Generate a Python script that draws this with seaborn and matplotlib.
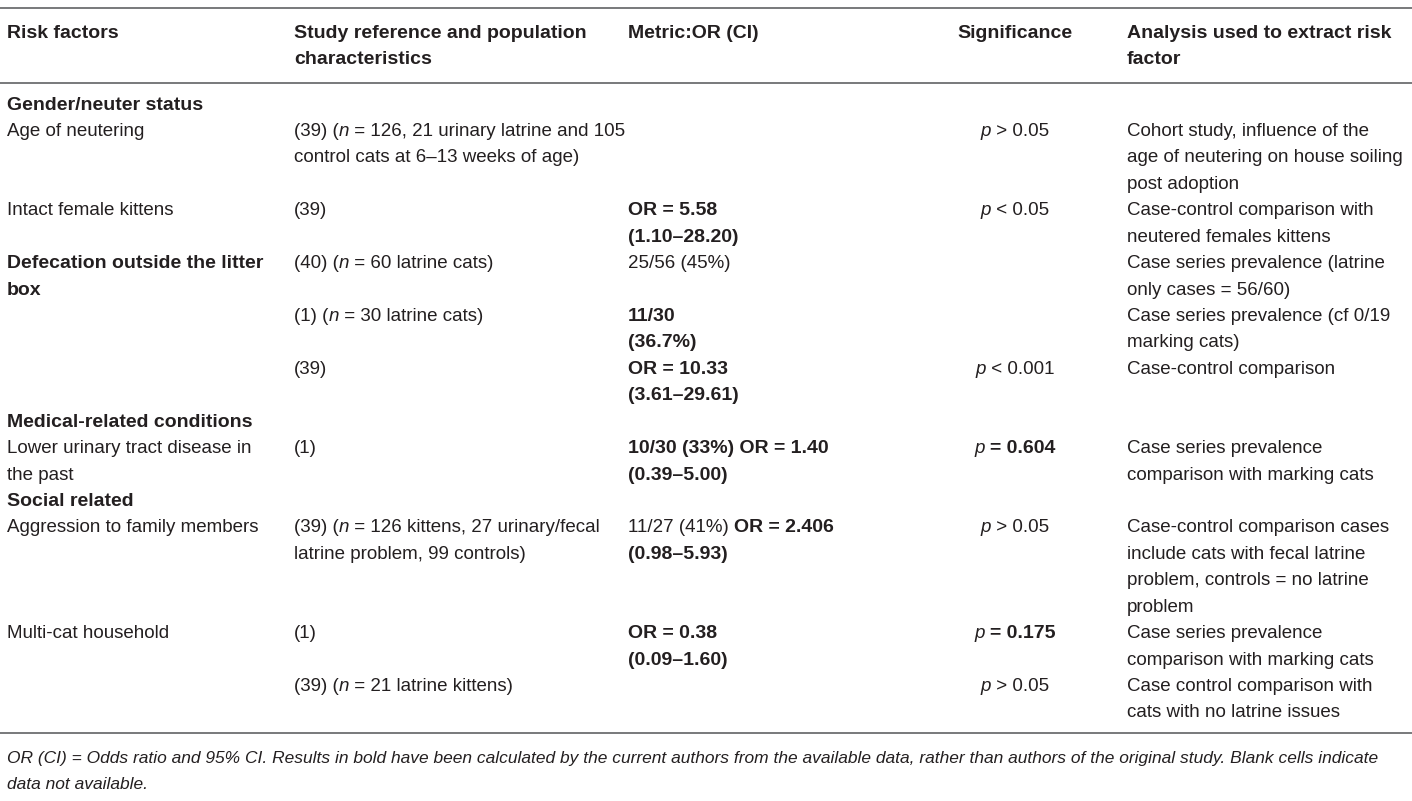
import re
import matplotlib
matplotlib.use("Agg")
import matplotlib.pyplot as plt
import seaborn as sns

# ---------------- data ----------------
header = [
    "**Risk factors**",
    "**Study reference and population**\n**characteristics**",
    "**Metric:OR (CI)**",
    "**Significance**",
    "**Analysis used to extract risk**\n**factor**",
]

sections = {0: "**Gender/neuter status**", 6: "**Medical-related conditions**", 8: "**Social related**"}

risk_factors = [
    "", "Age of neutering", "Intact female kittens",
    "**Defecation outside the litter**\n**box**", "", "",
    "", "Lower urinary tract disease in\nthe past",
    "", "Aggression to family members", "Multi-cat household", "",
]
study_refs = [
    "", "(39) (_n_ = 126, 21 urinary latrine and 105\ncontrol cats at 6–13 weeks of age)", "(39)",
    "(40) (_n_ = 60 latrine cats)", "(1) (_n_ = 30 latrine cats)", "(39)",
    "", "(1)",
    "", "(39) (_n_ = 126 kittens, 27 urinary/fecal\nlatrine problem, 99 controls)", "(1)",
    "(39) (_n_ = 21 latrine kittens)",
]
metrics = [
    "", "", "**OR = 5.58**\n**(1.10–28.20)**",
    "25/56 (45%)", "**11/30**\n**(36.7%)**", "**OR = 10.33**\n**(3.61–29.61)**",
    "", "**10/30 (33%) OR = 1.40**\n**(0.39–5.00)**",
    "", "11/27 (41%) **OR = 2.406**\n**(0.98–5.93)**", "**OR = 0.38**\n**(0.09–1.60)**", "",
]
significance = [
    "", "_p_ > 0.05", "_p_ < 0.05",
    "", "", "_p_ < 0.001",
    "", "_p_ **= 0.604**",
    "", "_p_ > 0.05", "_p_ **= 0.175**", "_p_ > 0.05",
]
analysis = [
    "", "Cohort study, influence of the\nage of neutering on house soiling\npost adoption",
    "Case-control comparison with\nneutered females kittens",
    "Case series prevalence (latrine\nonly cases = 56/60)",
    "Case series prevalence (cf 0/19\nmarking cats)",
    "Case-control comparison",
    "", "Case series prevalence\ncomparison with marking cats",
    "", "Case-control comparison cases\ninclude cats with fecal latrine\nproblem, controls = no latrine\nproblem",
    "Case series prevalence\ncomparison with marking cats",
    "Case control comparison with\ncats with no latrine issues",
]
footnote = ("_OR (CI) = Odds ratio and 95% CI. Results in bold have been calculated by the current authors "
            "from the available data, rather than authors of the original study. Blank cells indicate_\n"
            "_data not available._")

# ---------------- layout ----------------
sns.set_theme(style="white")
plt.rcParams["font.family"] = ["Liberation Sans", "DejaVu Sans"]

W, H = 1412, 801
fig = plt.figure(figsize=(W / 100, H / 100), dpi=100)
ax = fig.add_axes([0, 0, 1, 1])
ax.set_xlim(0, W)
ax.set_ylim(H, 0)
ax.axis("off")
renderer = fig.canvas.get_renderer()

FS = 13.5
FS_BOLD = 14.0
COLOR = "#231f20"
LINE_H = 26.43
col_x = [7, 294, 628, 1015, 1127]
col_align = ["left", "left", "left", "center", "left"]


def parse(line):
    runs = []
    for tok in re.split(r"(\*\*.*?\*\*|_.*?_)", line):
        if not tok:
            continue
        if tok.startswith("**"):
            runs.append((tok[2:-2], "bold", "normal"))
        elif tok.startswith("_") and tok.endswith("_") and len(tok) > 1:
            runs.append((tok[1:-1], "normal", "italic"))
        else:
            runs.append((tok, "normal", "normal"))
    return runs


def run_width(s, weight, style, fs):
    t = ax.text(0, 0, "|" + s + "|", fontsize=fs, fontweight=weight, fontstyle=style)
    w1 = t.get_window_extent(renderer).width
    t.set_text("||")
    w0 = t.get_window_extent(renderer).width
    t.remove()
    return w1 - w0


def draw_line(line, x, y, align="left", fs=None, color=COLOR):
    runs = parse(line)
    sizes = [fs if fs is not None else (FS_BOLD if w == "bold" else FS) for _, w, _ in runs]
    widths = [run_width(s, w, st, f) for (s, w, st), f in zip(runs, sizes)]
    if align == "center":
        x = x - sum(widths) / 2
    for (s, w, st), f, wd in zip(runs, sizes, widths):
        ax.text(x, y, s, fontsize=f, fontweight=w, fontstyle=st, color=color,
                ha="left", va="center_baseline")
        x += wd


def draw_cell(text, col, line_idx, y0):
    if not text:
        return 0
    lines = text.split("\n")
    for k, ln in enumerate(lines):
        draw_line(ln, col_x[col], y0 + (line_idx + k) * LINE_H, col_align[col])
    return len(lines)


# rules
for yy in (8, 83, 733):
    ax.plot([0, W], [yy, yy], color="#6d6e71", lw=1.3)

# header
for c, h in enumerate(header):
    draw_cell(h, c, 0, 31.5)

# body
Y0 = 103
li = 0
columns = [risk_factors, study_refs, metrics, significance, analysis]
for r in range(len(risk_factors)):
    if r in sections:
        draw_cell(sections[r], 0, li, Y0)
        li += 1
        continue
    n = max(draw_cell(columns[c][r], c, li, Y0) for c in range(5))
    li += max(n, 1)

# footnote
for k, ln in enumerate(footnote.split("\n")):
    draw_line(ln, 7, 757 + k * 26, "left", fs=12.55)

fig.savefig("out.png", dpi=100)
